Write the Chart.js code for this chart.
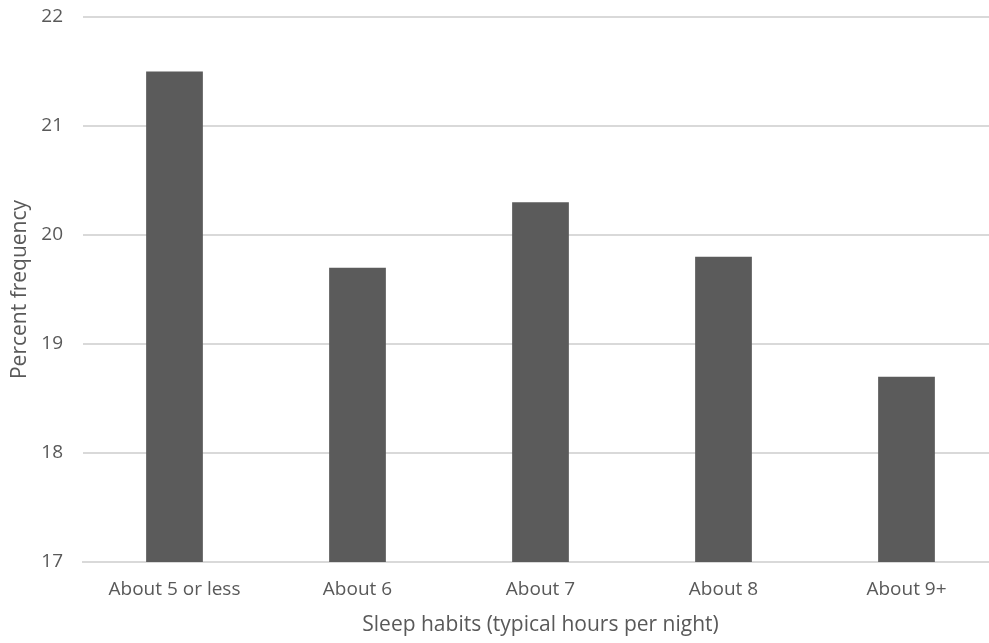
<!DOCTYPE html>
<html>
<head>
<meta charset="utf-8">
<script src="https://cdn.jsdelivr.net/npm/chart.js@4"></script>
<style>
  html, body { margin: 0; padding: 0; background: #fff; overflow: hidden; }
  #wrap { width: 1000px; height: 643px; }
</style>
</head>
<body>
<div id="wrap"><canvas id="myChart" width="1000" height="643"></canvas></div>
<script>
// datos
var categorias = ['About 5 or less', 'About 6', 'About 7', 'About 8', 'About 9+'];
var porcentajes = [21.5, 19.7, 20.3, 19.8, 18.7];
var ejeYMin = 17;
var ejeYMax = 22;

var gris = '#595959';
var fuente = "'Open Sans', 'Noto Sans', sans-serif";

var ctx = document.getElementById('myChart').getContext('2d');
var myChart = new Chart(ctx, {
    type: 'bar',
    data: {
        labels: categorias,
        datasets: [{
            label: 'Percent frequency',
            data: porcentajes,
            backgroundColor: '#5b5b5b',
            borderWidth: 0,
            barPercentage: 0.31,
            categoryPercentage: 1
        }]
    },
    options: {
        responsive: false,
        animation: false,
        layout: { padding: { top: 17, right: 2, bottom: 0, left: 0 } },
        plugins: {
            legend: { display: false },
            tooltip: { enabled: false }
        },
        scales: {
            x: {
                grid: { display: false, drawTicks: false },
                border: { color: '#d9d9d9', width: 2 },
                ticks: { color: gris, font: { family: fuente, size: 19 }, padding: 16, maxRotation: 0 },
                title: {
                    display: true,
                    text: 'Sleep habits (typical hours per night)',
                    color: gris,
                    font: { family: fuente, size: 21 },
                    padding: { top: 4, bottom: 5 }
                },
                afterFit: function(scale) {
                    scale.height = 81;
                    scale.paddingLeft = 0;
                    scale.paddingRight = 0;
                }
            },
            y: {
                min: ejeYMin,
                max: ejeYMax,
                ticks: { stepSize: 1, color: gris, font: { family: fuente, size: 19 }, padding: 20 },
                grid: { color: '#d9d9d9', lineWidth: 2, drawTicks: false },
                border: { display: false },
                title: {
                    display: true,
                    text: 'Percent frequency',
                    color: gris,
                    font: { family: fuente, size: 21 },
                    padding: { top: 7, bottom: 4 }
                },
                afterFit: function(scale) {
                    scale.width = 83;
                    scale.paddingTop = 0;
                    scale.paddingBottom = 0;
                }
            }
        }
    }
});
</script>
</body>
</html>
